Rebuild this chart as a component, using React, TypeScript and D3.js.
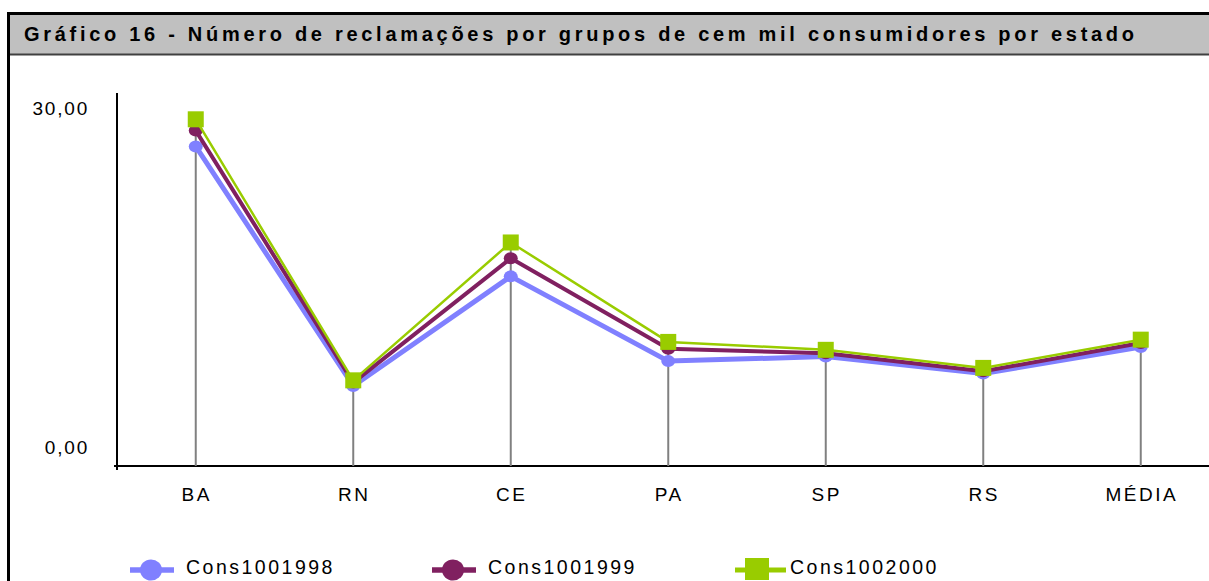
import React, { useEffect, useRef } from "react";
import * as d3 from "d3";

// values
const categories = ["BA", "RN", "CE", "PA", "SP", "RS", "MÉDIA"];
const cons1998 = [26.6, 5.4, 15.1, 7.6, 8.0, 6.5, 8.85];
const cons1999 = [28.0, 5.7, 16.7, 8.7, 8.3, 6.7, 9.2];
const cons2000 = [29.0, 5.9, 18.1, 9.3, 8.6, 7.0, 9.5];
const seriesNames = ["Cons1001998", "Cons1001999", "Cons1002000"];
const yTicks = [0, 30];

const title =
  "Gráfico 16 - Número de reclamações por grupos de cem mil consumidores por estado";

const App = () => {
  const container = useRef<HTMLDivElement | null>(null);

  useEffect(() => {
    const width = 1209;
    const height = 581;
    const plotLeft = 117;
    const plotRight = 1219.5;
    const plotTop = 93;
    const plotBottom = 466;
    const font = "'Liberation Sans', Arial, sans-serif";

    const series = [
      { name: seriesNames[0], values: cons1998, color: "#8080ff", width: 5, shape: "circle" },
      { name: seriesNames[1], values: cons1999, color: "#802060", width: 4, shape: "circle" },
      { name: seriesNames[2], values: cons2000, color: "#99cc00", width: 2.5, shape: "square" },
    ];

    const x = d3.scalePoint().domain(categories).range([plotLeft, plotRight]).padding(0.5);
    const y = d3.scaleLinear().domain([0, 30]).range([447, 108]);

    const svg = d3
      .select(container.current)
      .append("svg")
      .attr("width", width)
      .attr("height", height)
      .attr("viewBox", [0, 0, width, height])
      .style("position", "absolute")
      .style("left", "0px")
      .style("top", "0px")
      .style("background", "#fff")
      .style("font-family", font);

    // title band + frame
    svg.append("rect").attr("x", 8).attr("y", 14).attr("width", width).attr("height", 40).attr("fill", "#c0c0c0");
    svg.append("line").attr("x1", 7).attr("x2", width).attr("y1", 13.5).attr("y2", 13.5).attr("stroke", "#000").attr("stroke-width", 3);
    svg.append("line").attr("x1", 8).attr("x2", width).attr("y1", 54.5).attr("y2", 54.5).attr("stroke", "#404040").attr("stroke-width", 2);
    svg.append("line").attr("x1", 8.5).attr("x2", 8.5).attr("y1", 12).attr("y2", height).attr("stroke", "#000").attr("stroke-width", 3);

    svg
      .append("text")
      .attr("x", 24)
      .attr("y", 41)
      .attr("font-size", 20)
      .attr("font-weight", "bold")
      .attr("textLength", 1110)
      .attr("lengthAdjust", "spacing")
      .attr("fill", "#000")
      .text(title);

    // axes
    svg.append("line").attr("x1", plotLeft).attr("x2", plotLeft).attr("y1", plotTop).attr("y2", plotBottom + 4).attr("stroke", "#000").attr("stroke-width", 2);
    svg.append("line").attr("x1", plotLeft - 3).attr("x2", width).attr("y1", plotBottom).attr("y2", plotBottom).attr("stroke", "#000").attr("stroke-width", 2);

    svg
      .append("g")
      .selectAll("text")
      .data(yTicks)
      .join("text")
      .attr("x", 89)
      .attr("y", (d) => y(d))
      .attr("dy", "0.35em")
      .attr("text-anchor", "end")
      .attr("font-size", 19)
      .attr("letter-spacing", 1.8)
      .attr("fill", "#000")
      .text((d) => d3.format(".2f")(d).replace(".", ","));

    svg
      .append("g")
      .selectAll("text")
      .data(categories)
      .join("text")
      .attr("x", (d) => (x(d) as number) + 1)
      .attr("y", 501)
      .attr("text-anchor", "middle")
      .attr("font-size", 19)
      .attr("letter-spacing", 2.5)
      .attr("fill", "#000")
      .text((d) => d);

    // drop lines from the highest point to the axis
    svg
      .append("g")
      .selectAll("line")
      .data(categories)
      .join("line")
      .attr("x1", (d) => x(d) as number)
      .attr("x2", (d) => x(d) as number)
      .attr("y1", (d, i) => y(d3.max(series, (s) => s.values[i]) as number))
      .attr("y2", plotBottom)
      .attr("stroke", "#808080")
      .attr("stroke-width", 2);

    const line = d3
      .line<number>()
      .x((d, i) => x(categories[i]) as number)
      .y((d) => y(d));

    series.forEach((s) => {
      svg
        .append("path")
        .datum(s.values)
        .attr("fill", "none")
        .attr("stroke", s.color)
        .attr("stroke-width", s.width)
        .attr("stroke-linejoin", "round")
        .attr("d", line);

      const g = svg.append("g").attr("fill", s.color);
      if (s.shape === "circle") {
        g.selectAll("ellipse")
          .data(s.values)
          .join("ellipse")
          .attr("cx", (d, i) => x(categories[i]) as number)
          .attr("cy", (d) => y(d))
          .attr("rx", 7)
          .attr("ry", 6);
      } else {
        g.selectAll("rect")
          .data(s.values)
          .join("rect")
          .attr("x", (d, i) => (x(categories[i]) as number) - 8)
          .attr("y", (d) => y(d) - 8)
          .attr("width", 16)
          .attr("height", 16);
      }
    });

    // legend
    const legendX = [130, 432, 735];
    const legendY = 570;
    series.forEach((s, i) => {
      const lx = legendX[i];
      const g = svg.append("g");
      if (s.shape === "circle") {
        g.append("line").attr("x1", lx).attr("x2", lx + 44).attr("y1", legendY).attr("y2", legendY).attr("stroke", s.color).attr("stroke-width", 5.5);
        g.append("ellipse").attr("cx", lx + 21).attr("cy", legendY).attr("rx", 11).attr("ry", 10.5).attr("fill", s.color);
        g.append("text").attr("x", lx + 56).attr("y", legendY + 4).attr("font-size", 19.5).attr("letter-spacing", 2.5).text(s.name);
      } else {
        g.append("line").attr("x1", lx).attr("x2", lx + 51).attr("y1", legendY).attr("y2", legendY).attr("stroke", s.color).attr("stroke-width", 5);
        g.append("rect").attr("x", lx + 10).attr("y", legendY - 12).attr("width", 24).attr("height", 22).attr("fill", s.color);
        g.append("text").attr("x", lx + 55).attr("y", legendY + 4).attr("font-size", 19.5).attr("letter-spacing", 2.5).text(s.name);
      }
    });

    return () => {
      svg.remove();
    };
  }, []);

  return <div ref={container}></div>;
};

export default App;
